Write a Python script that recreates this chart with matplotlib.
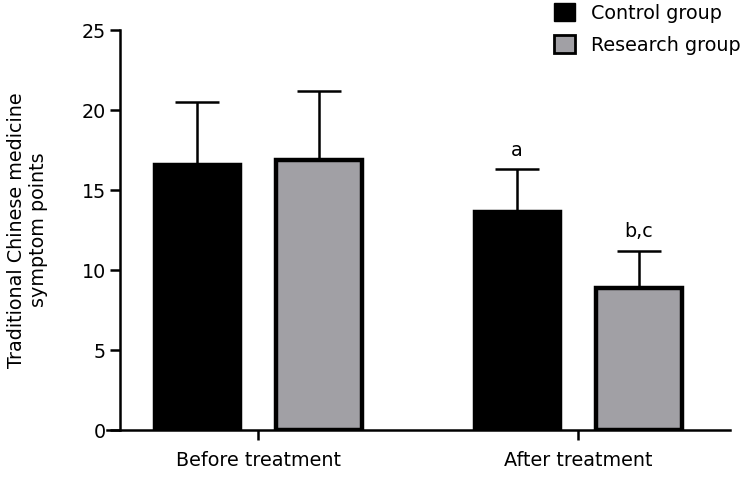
import matplotlib.pyplot as plt
from matplotlib.patches import Patch

groups = ['Before treatment', 'After treatment']
series = ['Control group', 'Research group']
control_mean = [16.6, 13.7]
control_sd = [3.9, 2.6]
research_mean = [16.9, 8.9]
research_sd = [4.3, 2.3]
sig_labels = [['', ''], ['a', 'b,c']]

plt.rcParams['font.family'] = ['DejaVu Sans']
fs = 13.8
fig = plt.figure(figsize=(7.48, 4.79), dpi=100)
ax = fig.add_axes([107 / 748, 49 / 479, 623 / 748, 400 / 479])

x = [0, 1]
w = 0.27
off = 0.19
gray = '#a1a0a5'
err_kw = dict(elinewidth=1.8, capthick=1.8, capsize=15.5, ecolor='black')

ax.bar([i - off for i in x], control_mean, w, color='black', edgecolor='black',
       linewidth=2.5, zorder=3)
ax.errorbar([i - off for i in x], control_mean, yerr=[[0, 0], control_sd], fmt='none',
            zorder=2, **err_kw)
ax.bar([i + off for i in x], research_mean, w, color=gray, edgecolor='black',
       linewidth=3.2, zorder=3)
ax.errorbar([i + off for i in x], research_mean, yerr=[[0, 0], research_sd], fmt='none',
            zorder=2, **err_kw)

for i in x:
    for j, (m, s) in enumerate([(control_mean[i], control_sd[i]), (research_mean[i], research_sd[i])]):
        lab = sig_labels[i][j]
        if lab:
            xp = i - off if j == 0 else i + off
            ax.text(xp, m + s + 0.6, lab, ha='center', va='bottom', fontsize=fs)

ax.set_xlim(-0.472, 1.475)
ax.set_ylim(0, 25)
ax.spines['left'].set_position(('data', -0.43))
ax.spines['top'].set_visible(False)
ax.spines['right'].set_visible(False)
for sp in ['left', 'bottom']:
    ax.spines[sp].set_linewidth(1.8)
ax.set_xticks(x)
ax.set_xticklabels(groups, fontsize=fs)
ax.set_yticks(range(0, 26, 5))
ax.tick_params(axis='y', labelsize=fs, width=1.8, length=7)
ax.tick_params(axis='x', width=1.8, length=7, pad=8)
ax.set_ylabel('Traditional Chinese medicine\nsymptom points', fontsize=fs, labelpad=24)

handles = [Patch(facecolor='black', edgecolor='black'),
           Patch(facecolor=gray, edgecolor='black', linewidth=2)]
fig.legend(handles, series, loc='upper left', bbox_to_anchor=(537 / 748, 1.03),
           frameon=False, fontsize=fs, handlelength=1.1, handleheight=1.1,
           handletextpad=0.8, labelspacing=0.65)

fig.savefig('out.png', dpi=100)
